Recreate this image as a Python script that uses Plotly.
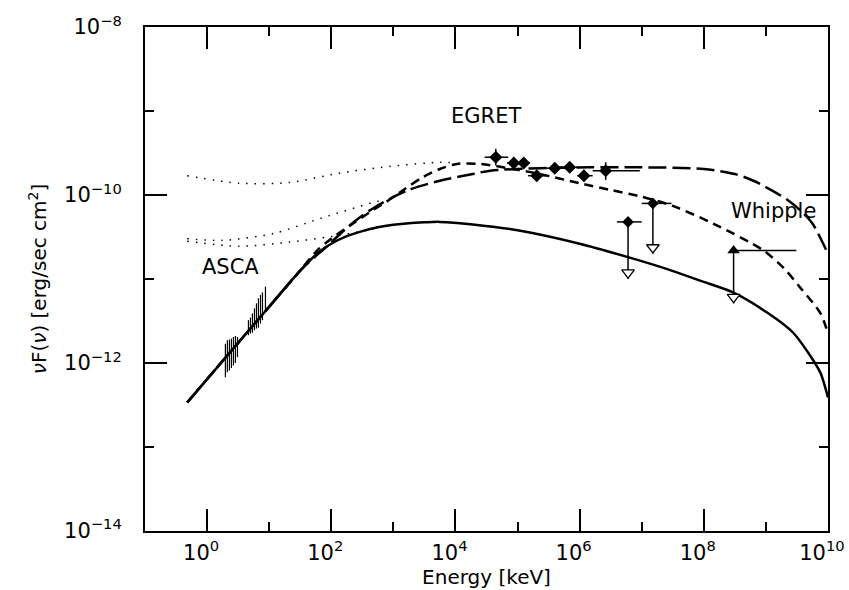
import numpy as np
import plotly.graph_objects as go

# ---------------- data (log10 values) ----------------
# model curves: log10(E/keV), log10(nuF_nu)
solid_logE = [-0.32, 0.5, 1.0, 1.5, 1.8, 2.0, 2.25, 2.5, 2.75, 3.0, 3.25, 3.5, 3.75, 4.28, 5.0, 6.0, 6.78, 7.4, 7.94, 8.47, 9.02, 9.44, 9.72, 9.88, 10.0]
solid_logF = [-12.47, -11.76, -11.33, -10.90, -10.68, -10.58, -10.49, -10.43, -10.385, -10.355, -10.335, -10.325, -10.32, -10.35, -10.42, -10.58, -10.74, -10.88, -11.02, -11.16, -11.40, -11.64, -11.92, -12.12, -12.41]

sdash_logE = [-0.32, 0.5, 1.0, 1.5, 1.76, 2.0, 2.35, 2.67, 2.89, 3.2, 3.47, 3.75, 4.02, 4.4, 5.0, 5.36, 6.0, 6.5, 7.0, 7.5, 8.15, 8.96, 9.3, 9.55, 9.88, 10.0]
sdash_logF = [-12.47, -11.76, -11.33, -10.90, -10.67, -10.52, -10.34, -10.18, -10.08, -9.92, -9.79, -9.69, -9.63, -9.63, -9.70, -9.75, -9.86, -9.94, -10.02, -10.13, -10.34, -10.66, -10.88, -11.10, -11.41, -11.65]

ldash_logE = [-0.32, 0.5, 1.0, 1.5, 1.93, 2.3, 2.67, 3.21, 3.75, 4.28, 4.56, 5.36, 6.17, 6.97, 8.0, 8.5, 8.8, 9.18, 9.35, 9.55, 9.75, 10.0]
ldash_logF = [-12.47, -11.76, -11.33, -10.90, -10.61, -10.36, -10.16, -9.95, -9.83, -9.75, -9.71, -9.68, -9.67, -9.67, -9.69, -9.75, -9.83, -9.98, -10.06, -10.18, -10.34, -10.70]

dot1_logE = [-0.32, 0.52, 1.33, 2.13, 2.94, 3.75, 4.02]
dot1_logF = [-9.77, -9.86, -9.85, -9.74, -9.66, -9.61, -9.62]
dot2_logE = [-0.32, 0.25, 1.06, 1.86, 2.67, 2.85]
dot2_logF = [-10.52, -10.54, -10.46, -10.27, -10.09, -10.06]
dot3_logE = [-0.32, 0.52, 1.33, 2.13, 2.57, 2.75]
dot3_logF = [-10.55, -10.61, -10.56, -10.48, -10.42, -10.39]

# ASCA error bars
asca_logE = [0.295, 0.327, 0.36, 0.392, 0.424, 0.456, 0.489,
             0.666, 0.698, 0.73, 0.763, 0.795, 0.827, 0.86, 0.892, 0.94]
asca_lo = [-12.17, -12.11, -12.09, -12.06, -12.03, -12.00, -11.93,
           -11.67, -11.65, -11.64, -11.61, -11.59, -11.58, -11.53, -11.49, -11.37]
asca_hi = [-11.77, -11.73, -11.72, -11.71, -11.69, -11.68, -11.69,
           -11.49, -11.46, -11.41, -11.35, -11.29, -11.23, -11.19, -11.16, -11.09]

# EGRET points
egret_logE = [4.65, 4.94, 5.10, 5.31, 5.60, 5.84, 6.07, 6.42]
egret_logF = [-9.55, -9.62, -9.62, -9.77, -9.68, -9.67, -9.77, -9.71]
egret_Elo = [4.47, 4.83, 5.00, 5.17, 5.44, 5.68, 5.96, 6.21]
egret_Ehi = [4.85, 5.04, 5.20, 5.47, 5.76, 6.00, 6.21, 6.97]
egret_Flo = [-9.65, -9.68, -9.68, -9.83, -9.74, -9.73, -9.84, -9.82]
egret_Fhi = [-9.45, -9.56, -9.56, -9.71, -9.62, -9.61, -9.70, -9.61]

# EGRET upper limits
ul_logE = [6.78, 7.18]
ul_logF = [-10.32, -10.10]
ul_Elo = [6.60, 7.00]
ul_Ehi = [7.00, 7.48]
ul_tip = [-11.00, -10.70]

# Whipple upper limit
wh_logE = [8.48]
wh_logF = [-10.66]
wh_Elo = [8.48]
wh_Ehi = [9.49]
wh_tip = [-11.29]

x_tick_exp = [0, 2, 4, 6, 8, 10]
x_minor_exp = [-1, 1, 3, 5, 7, 9]
y_tick_exp = [-8, -10, -12, -14]
y_minor_exp = [-9, -11, -13]

# ---------------- helpers ----------------
def p(v):
    return [10.0 ** a for a in v]

def segs(xs0, xs1, ys0, ys1):
    X, Y = [], []
    for a, b, c, d in zip(xs0, xs1, ys0, ys1):
        X += [10 ** a, 10 ** b, None]
        Y += [10 ** c, 10 ** d, None]
    return X, Y

fig = go.Figure()
K = "black"

def line(xe, yf, dash, width):
    fig.add_trace(go.Scatter(x=p(xe), y=p(yf), mode="lines",
                             line=dict(color=K, width=width, dash=dash, shape="spline", smoothing=0.8),
                             hoverinfo="skip", showlegend=False))

line(dot1_logE, dot1_logF, "1.5px,7px", 1.5)
line(dot2_logE, dot2_logF, "1.5px,7px", 1.5)
line(dot3_logE, dot3_logF, "1.5px,7px", 1.5)
line(ldash_logE, ldash_logF, "18px,6px", 2.5)
line(sdash_logE, sdash_logF, "9px,6px", 2.5)
line(solid_logE, solid_logF, "solid", 2.5)

# ASCA bars
X, Y = segs(asca_logE, asca_logE, asca_lo, asca_hi)
fig.add_trace(go.Scatter(x=X, y=Y, mode="lines", line=dict(color=K, width=1.2),
                         hoverinfo="skip", showlegend=False))

# EGRET error bars
X1, Y1 = segs(egret_Elo, egret_Ehi, egret_logF, egret_logF)
X2, Y2 = segs(egret_logE, egret_logE, egret_Flo, egret_Fhi)
fig.add_trace(go.Scatter(x=X1 + X2, y=Y1 + Y2, mode="lines", line=dict(color=K, width=1.5),
                         hoverinfo="skip", showlegend=False))
fig.add_trace(go.Scatter(x=p(egret_logE), y=p(egret_logF), mode="markers",
                         marker=dict(symbol="diamond", size=10, color=K),
                         hoverinfo="skip", showlegend=False))

# upper limits (EGRET + Whipple)
all_E = ul_logE + wh_logE
all_F = ul_logF + wh_logF
all_Elo = ul_Elo + wh_Elo
all_Ehi = ul_Ehi + wh_Ehi
all_tip = ul_tip + wh_tip
X1, Y1 = segs(all_Elo, all_Ehi, all_F, all_F)
X2, Y2 = segs(all_E, all_E, all_F, all_tip)
fig.add_trace(go.Scatter(x=X1 + X2, y=Y1 + Y2, mode="lines", line=dict(color=K, width=1.5),
                         hoverinfo="skip", showlegend=False))
fig.add_trace(go.Scatter(x=p(ul_logE), y=p(ul_logF), mode="markers",
                         marker=dict(symbol="diamond", size=9, color=K),
                         hoverinfo="skip", showlegend=False))
fig.add_trace(go.Scatter(x=p(wh_logE), y=p(wh_logF), mode="markers",
                         marker=dict(symbol="triangle-up", size=11, color=K),
                         hoverinfo="skip", showlegend=False))
# open arrow heads, centred a little above the tip
head_off = 0.075
fig.add_trace(go.Scatter(x=p(all_E), y=p([t + head_off for t in all_tip]), mode="markers",
                         marker=dict(symbol="triangle-down", size=11, color="white",
                                     line=dict(color=K, width=1.3)),
                         hoverinfo="skip", showlegend=False))

FONT = "DejaVu Sans"
ann = [("EGRET", 4.5, -9.06), ("Whipple", 9.13, -10.19), ("ASCA", 0.37, -10.86)]
for t, ax_, ay_ in ann:
    fig.add_annotation(x=ax_, y=ay_, xref="x", yref="y", text=t, showarrow=False,
                       font=dict(family=FONT, size=21, color=K))

def exp_label(e):
    s = str(e).replace("-", "\u2212")
    return "10<sup>" + s + "</sup>"

axis_common = dict(showgrid=False, zeroline=False, showline=True, linecolor=K, linewidth=2,
                   mirror="ticks", ticks="inside", ticklen=22, tickwidth=1.8, tickcolor=K,
                   tickfont=dict(family=FONT, size=21, color=K), automargin=False,
                   ticklabeloverflow="allow")

fig.update_xaxes(type="log", range=[-1, 10.0005],
                 tickvals=p(x_tick_exp), ticktext=[exp_label(e) for e in x_tick_exp],
                 minor=dict(tickvals=p(x_minor_exp), ticklen=9, tickwidth=1.5, tickcolor=K, ticks="inside"),
                 ticklabelstandoff=2, ticklabelshift=-6,
                 title=dict(text="Energy [keV]", font=dict(family=FONT, size=20, color=K), standoff=4),
                 **axis_common)
fig.update_yaxes(type="log", range=[-14.0005, -7.9995],
                 tickvals=p(y_tick_exp), ticktext=[exp_label(e) for e in y_tick_exp],
                 minor=dict(tickvals=p(y_minor_exp), ticklen=9, tickwidth=1.5, tickcolor=K, ticks="inside"),
                 ticklabelstandoff=17,
                 title=dict(text="<i>\u03bd</i>F(<i>\u03bd</i>) [erg/sec cm<sup>2</sup>]",
                            font=dict(family=FONT, size=20, color=K), standoff=12),
                 **axis_common)

fig.update_layout(width=849, height=590, margin=dict(l=145, r=21, t=27, b=59),
                  plot_bgcolor="white", paper_bgcolor="white", showlegend=False)

fig.write_html("out.html")
